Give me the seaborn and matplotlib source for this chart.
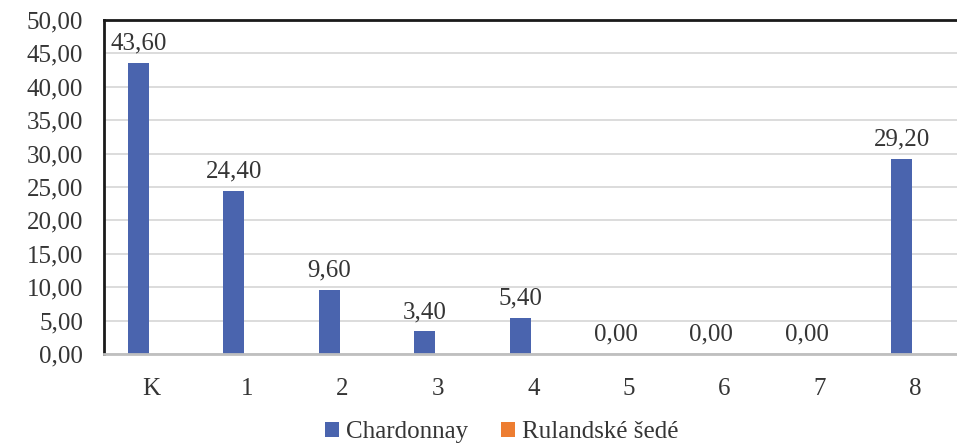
import matplotlib
matplotlib.use("Agg")
import matplotlib.pyplot as plt
import seaborn as sns
import pandas as pd
from matplotlib.patches import Patch
from matplotlib.ticker import FuncFormatter, MultipleLocator

categories = ["K", "1", "2", "3", "4", "5", "6", "7", "8"]
chardonnay = [43.60, 24.40, 9.60, 3.40, 5.40, 0.00, 0.00, 0.00, 29.20]
rulandske = [0.00, 0.00, 0.00, 0.00, 0.00, 0.00, 0.00, 0.00, 0.00]
series_names = ["Chardonnay", "Rulandské šedé"]
colors = ["#4A64AE", "#ED7D31"]

df = pd.DataFrame({
    "cat": categories * 2,
    "val": chardonnay + rulandske,
    "series": [series_names[0]] * len(categories) + [series_names[1]] * len(categories),
})

sns.set_theme(style="white")
families = ["Liberation Serif", "DejaVu Serif"]
plt.rcParams["font.family"] = families
text_color = "#353535"
fs = 18

fig = plt.figure(figsize=(9.57, 4.45), dpi=100)
ax = fig.add_axes([104 / 957, 1 - 354 / 445, (963 - 104) / 957, (354 - 20) / 445])

sns.barplot(data=df, x="cat", y="val", hue="series", order=categories,
            hue_order=series_names, palette=colors, saturation=1, width=0.56, gap=0.21,
            linewidth=0, legend=False, ax=ax)

fmt = lambda v: f"{v:.2f}".replace(".", ",")
ax.bar_label(ax.containers[0], labels=[fmt(v) for v in chardonnay],
             padding=6, fontsize=fs, color=text_color)

ax.set_xlim(-0.5, 8.5)
ax.set_ylim(0, 50)
ax.yaxis.set_major_locator(MultipleLocator(5))
ax.yaxis.set_major_formatter(FuncFormatter(lambda v, p: fmt(v)))
ax.grid(axis="y", color="#D9D9D9", linewidth=1.3)
ax.set_axisbelow(True)
ax.set_xlabel("")
ax.set_ylabel("")

ax.tick_params(axis="y", length=0, pad=15, labelsize=fs, labelcolor=text_color)
ax.tick_params(axis="x", length=0, pad=17, labelsize=fs, labelcolor=text_color)

for s in ["left", "top"]:
    ax.spines[s].set_visible(True)
    ax.spines[s].set_color("#1a1a1a")
    ax.spines[s].set_linewidth(2)
ax.spines["right"].set_visible(False)
ax.spines["bottom"].set_color("#BFBFBF")
ax.spines["bottom"].set_linewidth(2)

handles = [Patch(facecolor=c, edgecolor="none", label=n) for c, n in zip(colors, series_names)]
leg = fig.legend(handles=handles, loc="center", bbox_to_anchor=(502 / 957, 1 - 432 / 445),
                 ncol=2, frameon=False, fontsize=fs,
                 handlelength=0.55, handleheight=0.55,
                 handletextpad=0.3, columnspacing=1.3)
for t in leg.get_texts():
    t.set_fontfamily("Liberation Serif")
    t.set_color(text_color)

fig.savefig("out.png", dpi=100)
